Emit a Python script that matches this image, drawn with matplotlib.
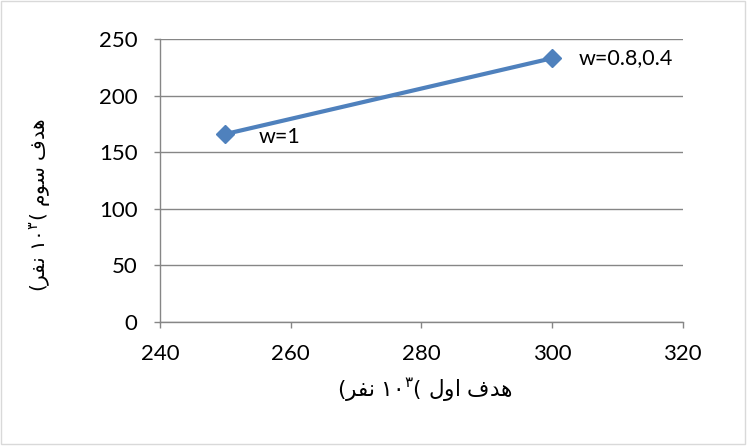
import matplotlib
matplotlib.use("Agg")
import matplotlib.pyplot as plt
from matplotlib.patches import Rectangle

# data
x_vals = [250, 300]
y_vals = [166, 233]
point_labels = ["w=1", "w=0.8,0.4"]
x_ticks = [240, 260, 280, 300, 320]
y_ticks = [0, 50, 100, 150, 200, 250]

# Persian labels pre-shaped (visual order) for matplotlib, which has no bidi shaping
xlabel = "(\uFEAE\uFED4\uFEE7 \u06F1\u06F0$^{\\mathrm{\u06F3}}$( \uFEDD\uFEED\uFE8D \uFED1\uFEAA\uFEEB"
ylabel = "(\uFEAE\uFED4\uFEE7 \u06F1\u06F0$^{\\mathrm{\u06F3}}$( \uFEE1\uFEEE\uFEB3 \uFED1\uFEAA\uFEEB"

plt.rcParams['font.family'] = ['Lato', 'DejaVu Sans']
plt.rcParams['mathtext.fontset'] = 'dejavusans'

fig = plt.figure(figsize=(7.47, 4.46), dpi=100)
ax = fig.add_axes([0.214, 0.278, 0.700, 0.6346])

grid_c = '#868686'
ax.plot(x_vals, y_vals, color='#4F81BD', lw=3, marker='D', ms=9, zorder=3,
        solid_capstyle='butt', clip_on=False)

ax.annotate(point_labels[0], (x_vals[0], y_vals[0]), xytext=(24, -2),
            textcoords='offset points', ha='left', va='center', fontsize=15.5)
ax.annotate(point_labels[1], (x_vals[1], y_vals[1]), xytext=(19, 0),
            textcoords='offset points', ha='left', va='center', fontsize=15.5)

ax.set_xlim(240, 320)
ax.set_ylim(0, 250)
ax.set_xticks(x_ticks)
ax.set_yticks(y_ticks)
ax.yaxis.grid(True, color=grid_c, lw=1)
ax.set_axisbelow(True)
for s in ['top', 'right']:
    ax.spines[s].set_visible(False)
for s in ['left', 'bottom']:
    ax.spines[s].set_color(grid_c)
    ax.spines[s].set_linewidth(1)
ax.tick_params(axis='both', colors=grid_c, labelcolor='black', labelsize=16,
               length=4, width=1, direction='out')
ax.tick_params(axis='y', pad=12)
ax.tick_params(axis='x', pad=12)

fig.text(0.569, 0.125, xlabel, family='DejaVu Sans', fontsize=15.5,
         ha='center', va='center')
fig.text(0.054, 0.54, ylabel, family='DejaVu Sans', fontsize=14.5,
         ha='center', va='center', rotation=90)

fig.patches.append(Rectangle((0.002, 0.004), 0.995, 0.993, transform=fig.transFigure,
                             fill=False, edgecolor='#D9D9D9', lw=1))

fig.savefig('out.png', dpi=100)
